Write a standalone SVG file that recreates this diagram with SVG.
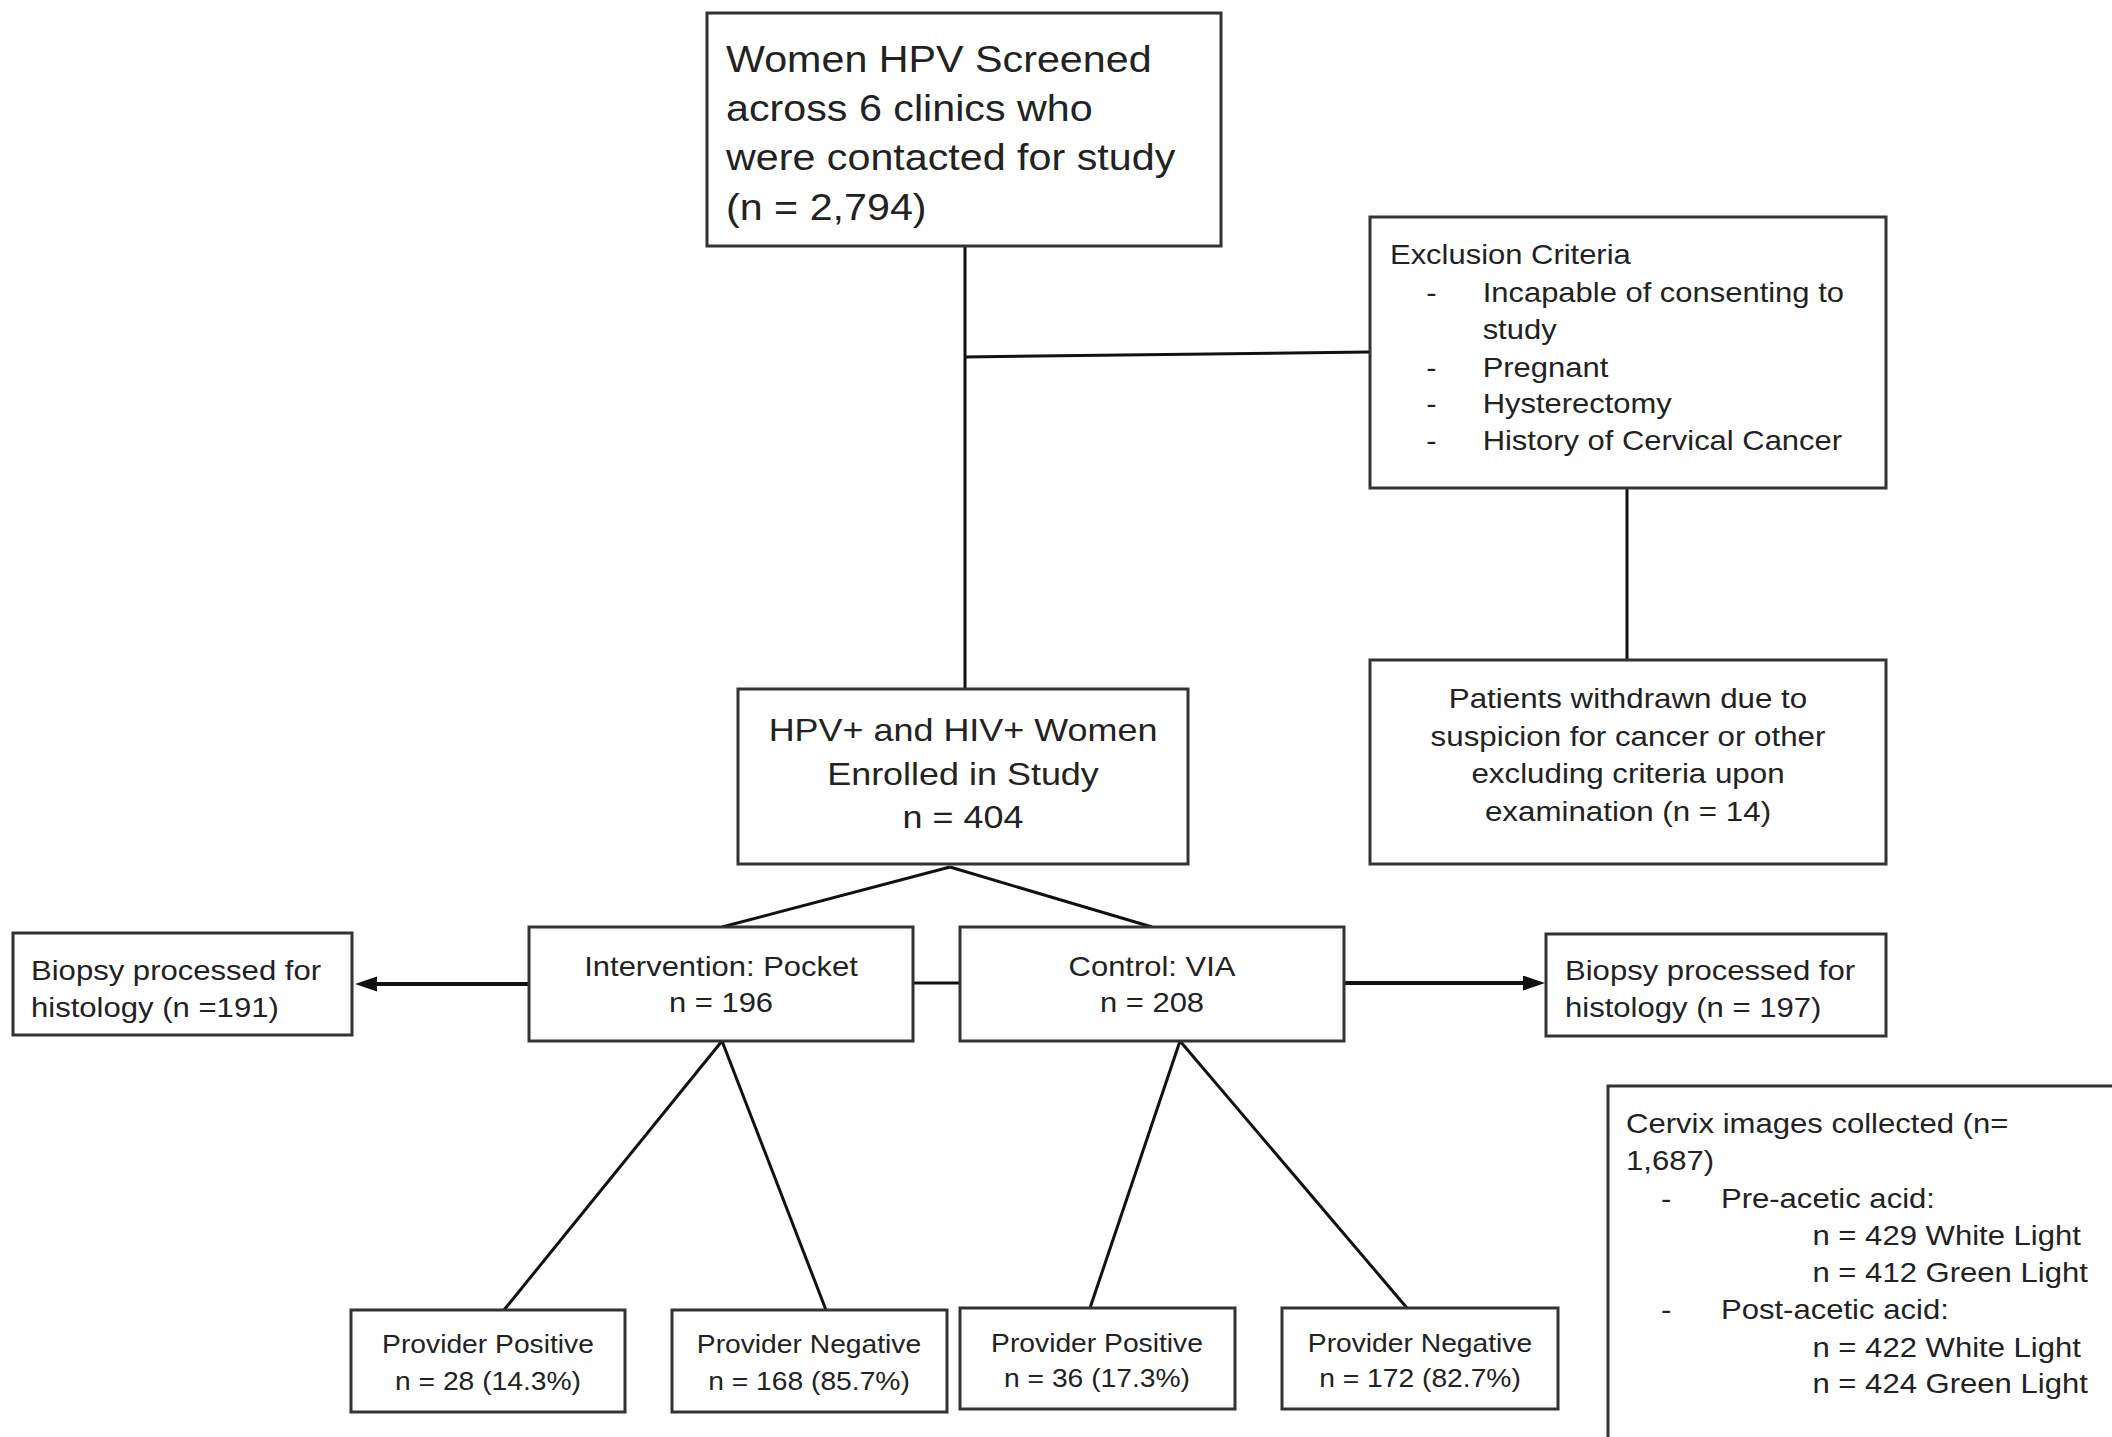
<svg xmlns="http://www.w3.org/2000/svg" width="2112" height="1437" viewBox="0 0 2112 1437">
<defs>
<style>
.box{fill:#fff;stroke:#333;stroke-width:3}
.ln{stroke:#111;stroke-width:3;fill:none}
.ar{stroke:#111;stroke-width:4;fill:none}
text{font-family:"Liberation Sans",Arial,sans-serif;fill:#222}
</style>
<marker id="ah" markerUnits="userSpaceOnUse" markerWidth="24" markerHeight="16" refX="12" refY="7.5" orient="auto">
<path d="M0,0 L22,7.5 L0,15 z" fill="#111"/>
</marker>
</defs>
<rect width="2112" height="1437" fill="#fff"/>

<g id="connectors">
<line class="ln" x1="965" y1="246" x2="965" y2="689"/>
<line class="ln" x1="965" y1="357" x2="1370" y2="352"/>
<line class="ln" x1="1627" y1="488" x2="1627" y2="660"/>
<line class="ln" x1="950" y1="867" x2="722" y2="927"/>
<line class="ln" x1="950" y1="867" x2="1152" y2="927"/>
<line class="ln" x1="913" y1="983" x2="960" y2="983"/>
<line class="ar" x1="529" y1="984" x2="365" y2="984" marker-end="url(#ah)"/>
<line class="ar" x1="1344" y1="983" x2="1535" y2="983" marker-end="url(#ah)"/>
<line class="ln" x1="722" y1="1041" x2="504" y2="1310"/>
<line class="ln" x1="722" y1="1041" x2="826" y2="1310"/>
<line class="ln" x1="1180" y1="1041" x2="1090" y2="1308"/>
<line class="ln" x1="1180" y1="1041" x2="1407" y2="1308"/>
</g>

<g id="screened">
<rect class="box" x="707" y="13" width="514" height="233"/>
<text transform="translate(726,0) scale(1.13,1)" font-size="36.5"><tspan x="0" y="72">Women HPV Screened</tspan><tspan x="0" y="121">across 6 clinics who</tspan><tspan x="0" y="170">were contacted for study</tspan><tspan x="0" y="220">(n = 2,794)</tspan></text>
</g>

<g id="exclusion">
<rect class="box" x="1370" y="217" width="516" height="271"/>
<text transform="translate(1390,0) scale(1.13,1)" font-size="27.4"><tspan x="0" y="264">Exclusion Criteria</tspan><tspan x="32" y="302">-</tspan><tspan x="82" y="302">Incapable of consenting to</tspan><tspan x="82" y="339">study</tspan><tspan x="32" y="377">-</tspan><tspan x="82" y="377">Pregnant</tspan><tspan x="32" y="413">-</tspan><tspan x="82" y="413">Hysterectomy</tspan><tspan x="32" y="450">-</tspan><tspan x="82" y="450">History of Cervical Cancer</tspan></text>
</g>

<g id="withdrawn">
<rect class="box" x="1370" y="660" width="516" height="204"/>
<text transform="translate(1628,0) scale(1.13,1)" font-size="27.7" text-anchor="middle"><tspan x="0" y="708">Patients withdrawn due to</tspan><tspan x="0" y="746">suspicion for cancer or other</tspan><tspan x="0" y="783">excluding criteria upon</tspan><tspan x="0" y="821">examination (n = 14)</tspan></text>
</g>

<g id="enrolled">
<rect class="box" x="738" y="689" width="450" height="175"/>
<text transform="translate(963,0) scale(1.13,1)" font-size="31.8" text-anchor="middle"><tspan x="0" y="741">HPV+ and HIV+ Women</tspan><tspan x="0" y="785">Enrolled in Study</tspan><tspan x="0" y="828">n = 404</tspan></text>
</g>

<g id="biopsy-left">
<rect class="box" x="13" y="933" width="339" height="102"/>
<text transform="translate(31,0) scale(1.13,1)" font-size="27.5"><tspan x="0" y="980">Biopsy processed for</tspan><tspan x="0" y="1017">histology (n =191)</tspan></text>
</g>

<g id="intervention">
<rect class="box" x="529" y="927" width="384" height="114"/>
<text transform="translate(721,0) scale(1.13,1)" font-size="27.4" text-anchor="middle"><tspan x="0" y="976">Intervention: Pocket</tspan><tspan x="0" y="1012">n = 196</tspan></text>
</g>

<g id="control">
<rect class="box" x="960" y="927" width="384" height="114"/>
<text transform="translate(1152,0) scale(1.13,1)" font-size="27.4" text-anchor="middle"><tspan x="0" y="976">Control: VIA</tspan><tspan x="0" y="1012">n = 208</tspan></text>
</g>

<g id="biopsy-right">
<rect class="box" x="1546" y="934" width="340" height="102"/>
<text transform="translate(1565,0) scale(1.13,1)" font-size="27.5"><tspan x="0" y="980">Biopsy processed for</tspan><tspan x="0" y="1017">histology (n = 197)</tspan></text>
</g>

<g id="cervix">
<rect class="box" x="1608" y="1086" width="520" height="370"/>
<text transform="translate(1626,0) scale(1.13,1)" font-size="27.5"><tspan x="0" y="1133">Cervix images collected (n=</tspan><tspan x="0" y="1170">1,687)</tspan><tspan x="31" y="1208">-</tspan><tspan x="84" y="1208">Pre-acetic acid:</tspan><tspan x="165" y="1245">n = 429 White Light</tspan><tspan x="165" y="1282">n = 412 Green Light</tspan><tspan x="31" y="1319">-</tspan><tspan x="84" y="1319">Post-acetic acid:</tspan><tspan x="165" y="1357">n = 422 White Light</tspan><tspan x="165" y="1393">n = 424 Green Light</tspan></text>
</g>

<g id="int-positive">
<rect class="box" x="351" y="1310" width="274" height="102"/>
<text transform="translate(488,0) scale(1.13,1)" font-size="25" text-anchor="middle"><tspan x="0" y="1353">Provider Positive</tspan><tspan x="0" y="1390">n = 28 (14.3%)</tspan></text>
</g>

<g id="int-negative">
<rect class="box" x="672" y="1310" width="275" height="102"/>
<text transform="translate(809,0) scale(1.13,1)" font-size="25" text-anchor="middle"><tspan x="0" y="1353">Provider Negative</tspan><tspan x="0" y="1390">n = 168 (85.7%)</tspan></text>
</g>

<g id="ctl-positive">
<rect class="box" x="960" y="1308" width="275" height="101"/>
<text transform="translate(1097,0) scale(1.13,1)" font-size="25" text-anchor="middle"><tspan x="0" y="1352">Provider Positive</tspan><tspan x="0" y="1387">n = 36 (17.3%)</tspan></text>
</g>

<g id="ctl-negative">
<rect class="box" x="1282" y="1308" width="276" height="101"/>
<text transform="translate(1420,0) scale(1.13,1)" font-size="25" text-anchor="middle"><tspan x="0" y="1352">Provider Negative</tspan><tspan x="0" y="1387">n = 172 (82.7%)</tspan></text>
</g>
</svg>
